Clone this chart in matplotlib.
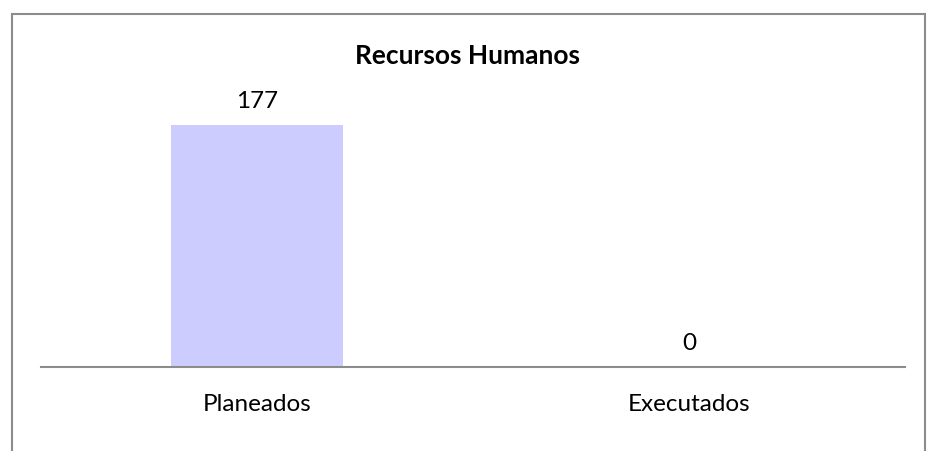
import matplotlib.pyplot as plt
import matplotlib as mpl
from matplotlib.patches import Rectangle

mpl.rcParams['font.family'] = ['Lato', 'DejaVu Sans']
mpl.rcParams['font.size'] = 17.5

categories = ["Planeados", "Executados"]
values = [177, 0]

fig = plt.figure(figsize=(9.28, 4.51), dpi=100)
ax = fig.add_axes([41 / 928, 84 / 451, 864 / 928, 273.4 / 451])

bars = ax.bar(range(len(categories)), values, width=0.4, color="#CCCCFF")
ax.set_xlim(-0.5, 1.5)
ax.set_ylim(0, 200)

for s in ['top', 'right', 'left']:
    ax.spines[s].set_visible(False)
ax.spines['bottom'].set_color("#8c8c8c")
ax.spines['bottom'].set_linewidth(1.5)
ax.set_yticks([])
ax.set_xticks(range(len(categories)))
ax.set_xticklabels(categories, va='baseline')
ax.tick_params(axis='x', length=0, pad=31.7)

for bar, v in zip(bars, values):
    ax.annotate(str(v), (bar.get_x() + bar.get_width() / 2, v),
                xytext=(0, 12), textcoords='offset points',
                ha='center', va='baseline')

fig.text(468 / 928, 1 - 64 / 451, "Recursos Humanos", ha='center', va='baseline',
         fontsize=19, fontweight='bold')

# outer chart frame (bottom is cut off)
fig.patches.append(Rectangle((12 / 928, -0.1), (925 - 12) / 928, 1.1 - 14 / 451,
                             transform=fig.transFigure, fill=False,
                             edgecolor="#8c8c8c", linewidth=1.5))

fig.savefig("out.png", dpi=100)
